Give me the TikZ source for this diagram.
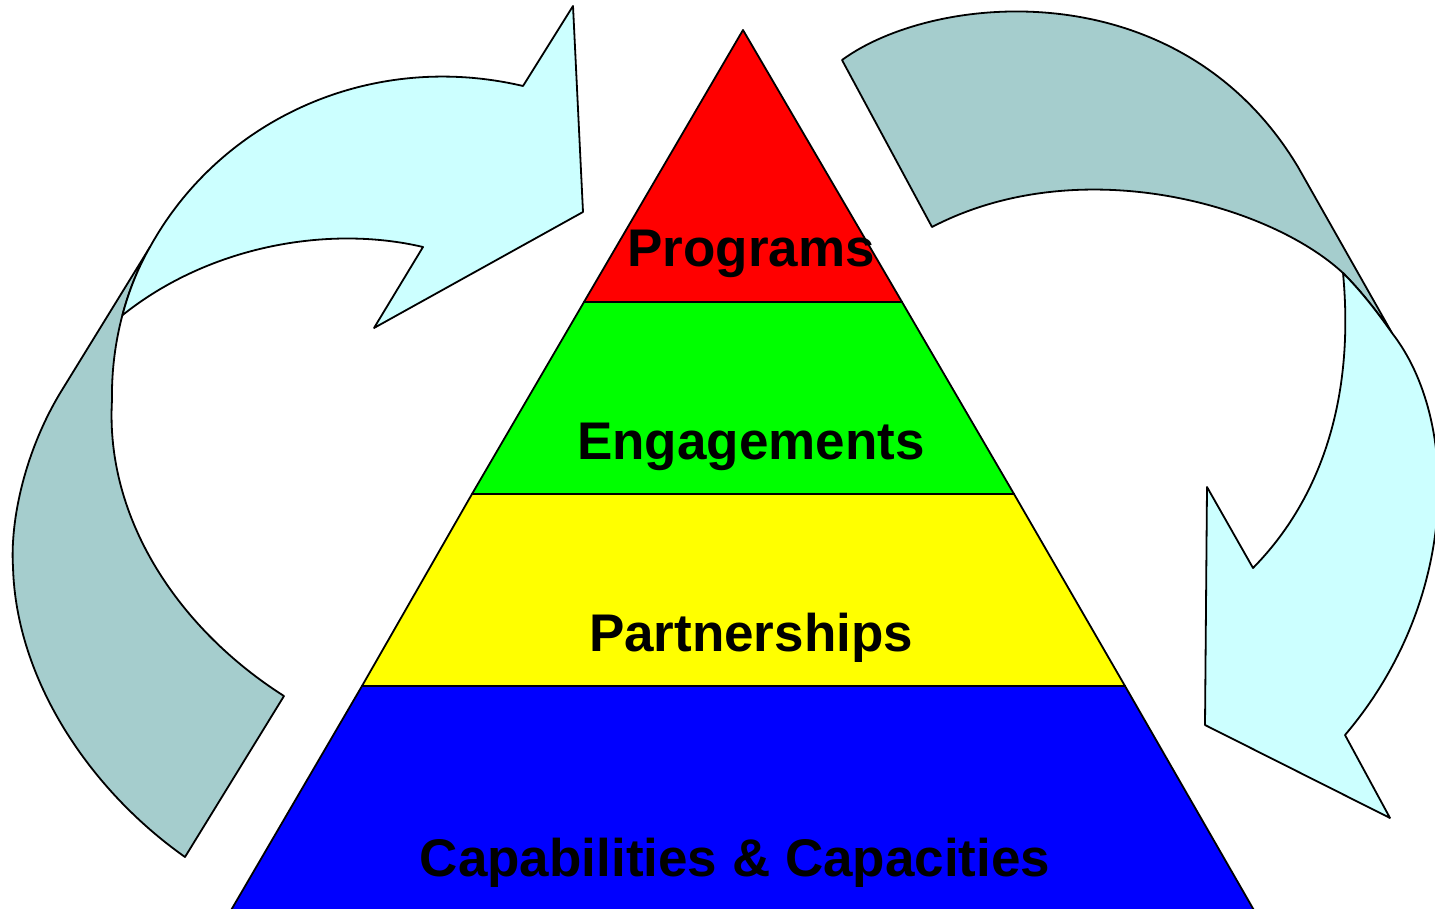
\documentclass[tikz,border=0pt]{standalone}
\usepackage{fontspec}
\setmainfont{Liberation Sans}
\definecolor{frontc}{HTML}{CCFFFF}
\definecolor{backc}{HTML}{A5CDCD}
\definecolor{pred}{HTML}{FF0000}
\definecolor{pgreen}{HTML}{00FF00}
\definecolor{pyellow}{HTML}{FFFF00}
\definecolor{pblue}{HTML}{0000FF}
\begin{document}
\begin{tikzpicture}[x=1pt,y=-1pt,line join=round,
  shape line/.style={draw=black,line width=1.8pt},
  lbl/.style={anchor=base,inner sep=0pt,font=\fontsize{53}{60}\selectfont\bfseries}]
\useasboundingbox (0,0) rectangle (1435,909);
\clip (0,0) rectangle (1435,909);
% ---------- left curved arrow ----------
\path[shape line,fill=backc] (150,247) -- (62,390)
  .. controls (25,450) and (10,520) .. (13,567)
  .. controls (16,680) and (90,790) .. (185,857)
  -- (284,696)
  .. controls (180,630) and (105,520) .. (112,400)
  .. controls (111,340) and (128,285) .. (150,247)
  -- cycle;
\path[shape line,fill=frontc] (150,247)
  .. controls (220,120) and (370,50) .. (523,86)
  -- (573,6) -- (583,212) -- (374,328) -- (423,247)
  .. controls (330,225) and (210,245) .. (122.4,315.25)
  .. controls (129.25,289.25) and (139,266) .. (150,247)
  -- cycle;
% ---------- right curved arrow ----------
\path[shape line,fill=backc] (842,60)
  .. controls (935,-8) and (1180,-30) .. (1298,167)
  -- (1392,333)
  .. controls (1378,313) and (1362,292) .. (1343,273)
  .. controls (1270,205) and (1080,150) .. (932,227)
  -- cycle;
\path[shape line,fill=frontc] (1343,273)
  .. controls (1362,292) and (1378,313) .. (1392,333)
  .. controls (1460,420) and (1460,600) .. (1345,735)
  -- (1390,818) -- (1205,725) -- (1207,487) -- (1253,568)
  .. controls (1320,500) and (1355,400) .. (1343,273)
  -- cycle;
% ---------- pyramid ----------
\path[shape line,fill=pblue] (362,686) -- (1125,686) -- (1255,912) -- (230,912) -- cycle;
\path[shape line,fill=pyellow] (472,494) -- (1014,494) -- (1125,686) -- (362,686) -- cycle;
\path[shape line,fill=pgreen] (584,302) -- (902,302) -- (1014,494) -- (472,494) -- cycle;
\path[shape line,fill=pred] (743,30) -- (902,302) -- (584,302) -- cycle;
\node[lbl] (programs) at (751,267) {Programs};
\node[lbl] (engagements) at (751,459) {Engagements};
\node[lbl] (partnerships) at (751,651) {Partnerships};
\node[lbl] (capabilities) at (735,876) {Capabilities \& Capacities};
\end{tikzpicture}
\end{document}
